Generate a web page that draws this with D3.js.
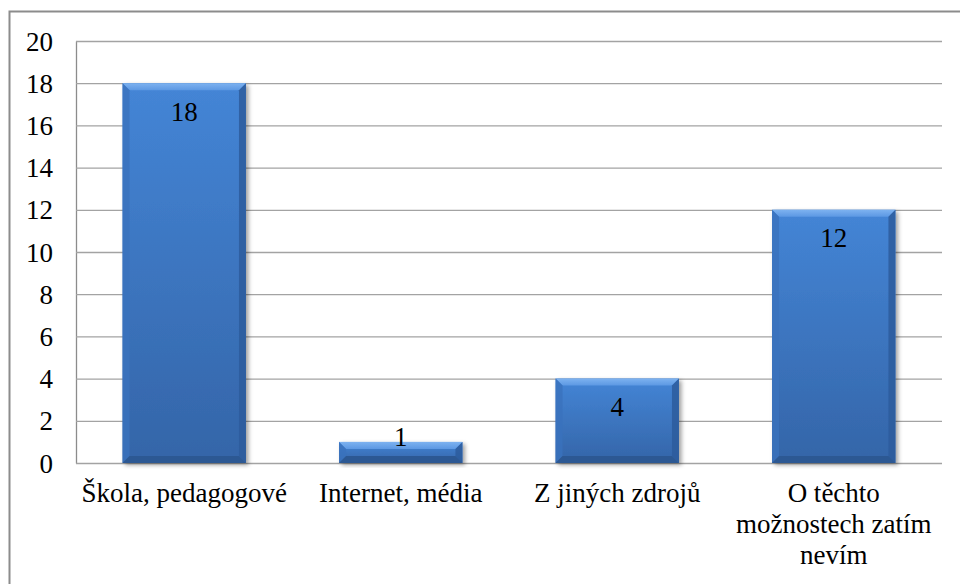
<!DOCTYPE html>
<html>
<head>
<meta charset="utf-8">
<script src="https://cdn.jsdelivr.net/npm/d3@7/dist/d3.min.js"></script>
<style>
  html, body { margin: 0; padding: 0; background: #ffffff; }
  svg { display: block; }
  svg, svg text, svg tspan { font-family: "Liberation Serif" !important; }
</style>
</head>
<body>
<svg id="chart" width="960" height="584" font-family="Liberation Serif"></svg>
<script>
// Source of information about options (counts of answers)
const categories = ["Škola, pedagogové", "Internet, média", "Z jiných zdrojů", "O těchto možnostech zatím nevím"];
const values = [18, 1, 4, 12];
const tickValues = [0, 2, 4, 6, 8, 10, 12, 14, 16, 18, 20];

const W = 960, H = 584;
const plot = { left: 76, right: 942, top: 41, bottom: 463 };
const fontSize = "27px";
const serif = '"Liberation Serif"';

const svg = d3.select("#chart");

// Outer frame of the chart object (runs past the visible page on right/bottom)
svg.append("rect")
  .attr("x", 9.5).attr("y", 11.5)
  .attr("width", 1000).attr("height", 700)
  .attr("fill", "#fff")
  .attr("stroke", "#8c8c8c")
  .attr("stroke-width", 2);

const defs = svg.append("defs");

// Vertical body gradient
const bodyGrad = defs.append("linearGradient")
  .attr("id", "barBody").attr("x1", 0).attr("y1", 0).attr("x2", 0).attr("y2", 1);
bodyGrad.append("stop").attr("offset", "0%").attr("stop-color", "#4485d6");
bodyGrad.append("stop").attr("offset", "100%").attr("stop-color", "#3465a8");

const topGrad = defs.append("linearGradient")
  .attr("id", "bevelTop").attr("x1", 0).attr("y1", 0).attr("x2", 0).attr("y2", 1);
topGrad.append("stop").attr("offset", "0%").attr("stop-color", "#7db2f0");
topGrad.append("stop").attr("offset", "100%").attr("stop-color", "#5c98e3");

const shadow = defs.append("filter")
  .attr("id", "barShadow")
  .attr("x", "-20%").attr("y", "-20%").attr("width", "140%").attr("height", "140%");
shadow.append("feDropShadow")
  .attr("dx", 2.5).attr("dy", 2)
  .attr("stdDeviation", 2)
  .attr("flood-color", "#000")
  .attr("flood-opacity", 0.38);

const x = d3.scaleBand()
  .domain(categories)
  .range([plot.left, plot.right])
  .paddingInner(0.43)
  .paddingOuter(0.215);

const y = d3.scaleLinear()
  .domain([0, 20])
  .range([plot.bottom, plot.top]);

// Gridlines + value axis
const yAxis = d3.axisLeft(y)
  .tickValues(tickValues)
  .tickSize(-(plot.right - plot.left))
  .tickSizeOuter(0)
  .tickPadding(23)
  .tickFormat(d3.format("d"));

const gy = svg.append("g")
  .attr("transform", `translate(${plot.left},0)`)
  .call(yAxis)
  .attr("font-family", "Liberation Serif")
  .attr("font-size", null);
gy.select(".domain").attr("stroke", "#8c8c8c").attr("stroke-width", 1.3);
gy.selectAll(".tick line").attr("stroke", "#a3a3a3").attr("stroke-width", 1.3);
gy.selectAll(".tick text")
  .style("font-family", serif)
  .style("font-size", fontSize)
  .attr("fill", "#000")
  .attr("dy", "0.34em");

// Bars with bevel
const bevel = 7;
const bars = svg.append("g").selectAll("g.bar")
  .data(categories.map((c, i) => ({ c, v: values[i] })))
  .join("g")
  .attr("class", "bar");

bars.each(function (d) {
  const g = d3.select(this);
  const x0 = x(d.c), x1 = x0 + x.bandwidth();
  const y0 = y(d.v), y1 = y(0);
  const b = Math.min(bevel, (y1 - y0) / 2.5);

  g.append("rect")
    .attr("x", x0).attr("y", y0)
    .attr("width", x1 - x0).attr("height", y1 - y0)
    .attr("fill", "url(#barBody)")
    .attr("filter", "url(#barShadow)");

  // top bevel
  g.append("path")
    .attr("d", `M${x0},${y0}L${x1},${y0}L${x1 - b},${y0 + b}L${x0 + b},${y0 + b}Z`)
    .attr("fill", "url(#bevelTop)");
  // left bevel
  g.append("path")
    .attr("d", `M${x0},${y0}L${x0 + b},${y0 + b}L${x0 + b},${y1 - b}L${x0},${y1}Z`)
    .attr("fill", "#3a72bd").attr("opacity", 0.8);
  // right bevel
  g.append("path")
    .attr("d", `M${x1},${y0}L${x1 - b},${y0 + b}L${x1 - b},${y1 - b}L${x1},${y1}Z`)
    .attr("fill", "#2d5c9c").attr("opacity", 0.85);
  // bottom bevel
  g.append("path")
    .attr("d", `M${x0},${y1}L${x0 + b},${y1 - b}L${x1 - b},${y1 - b}L${x1},${y1}Z`)
    .attr("fill", "#2c5893");
});

// Value labels (inside end; short bars carry the label at their top)
bars.append("text")
  .attr("x", d => x(d.c) + x.bandwidth() / 2)
  .attr("y", d => {
    const top = y(d.v), h = y(0) - top;
    return h >= 45 ? top + 37.5 : top + 4.5;
  })
  .attr("text-anchor", "middle")
  .attr("fill", "#000")
  .style("font-family", serif)
  .style("font-size", fontSize)
  .text(d => d.v);

// Category labels, wrapped to the band step
const step = x.step();
const catG = svg.append("g");
categories.forEach(c => {
  const t = catG.append("text")
    .attr("text-anchor", "middle")
    .attr("fill", "#000")
    .style("font-family", serif)
    .style("font-size", fontSize);
  const words = c.split(" ");
  const lines = [];
  let line = [];
  const probe = t.append("tspan");
  words.forEach(w => {
    const trial = line.concat([w]).join(" ");
    probe.text(trial);
    if (line.length && probe.node().getComputedTextLength() > step - 4) {
      lines.push(line.join(" "));
      line = [w];
    } else {
      line.push(w);
    }
  });
  lines.push(line.join(" "));
  probe.remove();
  const cx = x(c) + x.bandwidth() / 2;
  lines.forEach((l, i) => {
    t.append("tspan")
      .attr("x", cx)
      .attr("y", 502 + i * 31)
      .text(l);
  });
});
</script>
</body>
</html>
